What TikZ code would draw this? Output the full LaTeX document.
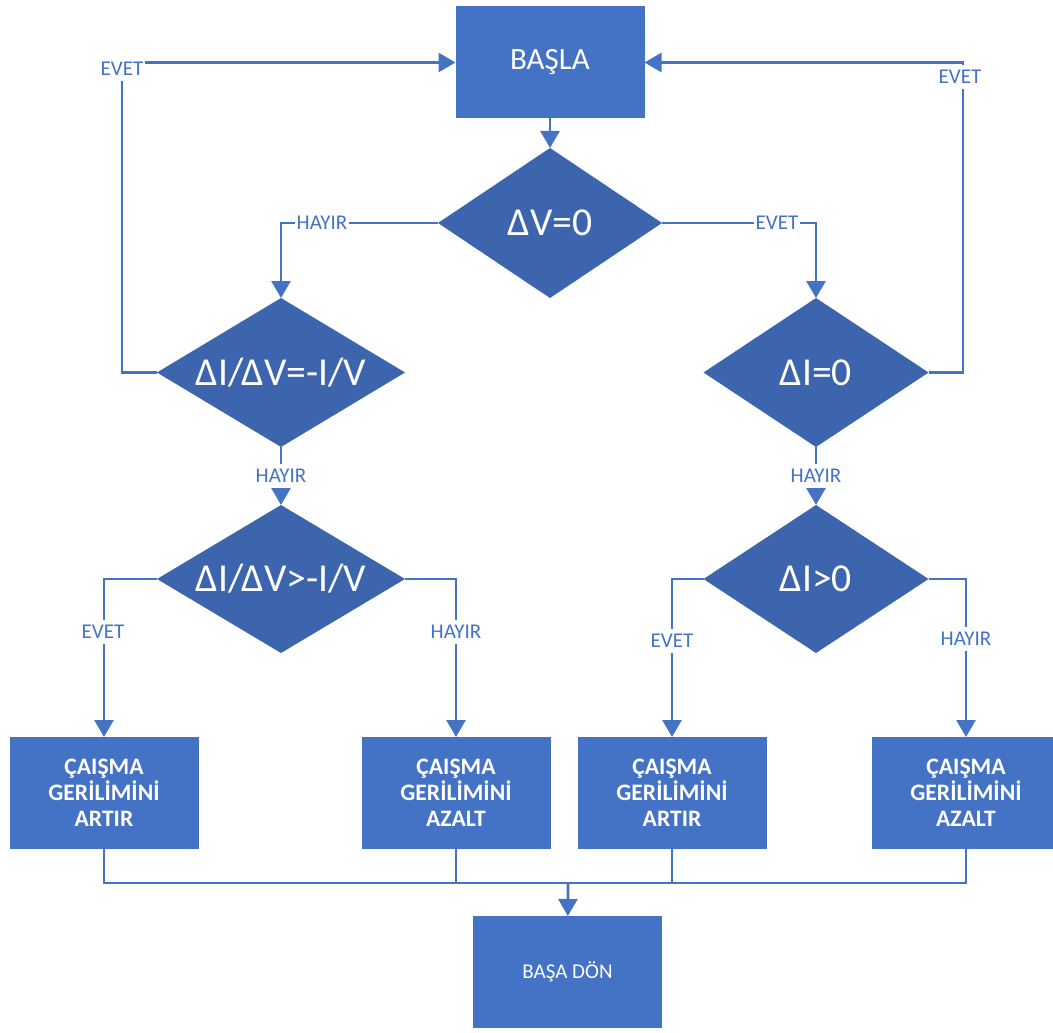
\documentclass[tikz,border=0pt]{standalone}
\usepackage{fontspec}
\setmainfont{Carlito}
\usetikzlibrary{shapes.geometric,arrows.meta,positioning}
\definecolor{ofblue}{HTML}{4472C4}
\definecolor{ofdark}{HTML}{3C65AD}

\begin{document}
\begin{tikzpicture}[x=0.5pt, y=-0.5pt, line width=1.4pt,
        conn/.style={draw=ofblue, -{Triangle[length=8.5pt,width=9.5pt]}},
        plain/.style={draw=ofblue},
        lbl/.style={fill=white, text=ofblue, inner xsep=1pt, inner ysep=2.5pt, font=\fontsize{10.5pt}{12pt}\selectfont}]
            \useasboundingbox (0,0) rectangle (1053,1032);
            \begin{scope}[box/.style={rectangle, fill=ofblue, text=white, align=center, inner sep=0pt, outer sep=0pt, minimum width=94.5pt, minimum height=56pt},
                          act/.style={box, font=\bfseries\fontsize{11.8pt}{13pt}\selectfont},
                          dec/.style={diamond, fill=ofdark, text=white, inner sep=0pt, outer sep=0pt, font=\fontsize{19.8pt}{23pt}\selectfont}]
                \node(basla) at (550,62.5) [box, font=\fontsize{15.5pt}{18pt}\selectfont]{BAŞLA};
                \node(dv) at (550,223) [dec, aspect=1.49, minimum width=112pt, minimum height=75pt]{ΔV=0};
                %%%
                \node(esit) at (281,372.5) [dec, aspect=1.66, minimum width=124pt, minimum height=74.5pt]{ΔI/ΔV=-I/V};
                \node(di) at (816,372.5) [dec, aspect=1.5, minimum width=112.5pt, minimum height=74.5pt]{ΔI=0};
                \node(buyuk) at (281,579) [dec, aspect=1.66, minimum width=124pt, minimum height=74pt]{ΔI/ΔV>-I/V};
                \node(dipoz) at (816,579) [dec, aspect=1.5, minimum width=112.5pt, minimum height=74pt]{ΔI>0};
                %%%
                \node(art1) at (104,793) [act]{ÇAIŞMA\\GERİLİMİNİ\\ARTIR};
                \node(az1) at (456,793) [act]{ÇAIŞMA\\GERİLİMİNİ\\AZALT};
                \node(art2) at (672,793) [act]{ÇAIŞMA\\GERİLİMİNİ\\ARTIR};
                \node(az2) at (966,793) [act]{ÇAIŞMA\\GERİLİMİNİ\\AZALT};
                \node(donus) at (567.5,972) [box, font=\fontsize{10.5pt}{13pt}\selectfont]{BAŞA DÖN};
            \end{scope}
            \coordinate(ltop) at (122,62.5);
            \coordinate(rtop) at (963,62.5);
            \coordinate(join) at (568,883);
            %
            \draw[conn] (basla) -- (dv);
            \draw[conn] (dv.west) -| (esit.north);
            \draw[conn] (dv.east) -| (di.north);
            \draw[conn] (esit.west) -| (ltop) -- (basla.west);
            \draw[conn] (di.east) -| (rtop) -- (basla.east);
            \draw[conn] (esit) -- (buyuk);
            \draw[conn] (di) -- (dipoz);
            %
            \draw[conn] (buyuk.west) -| (art1.north);
            \draw[conn] (buyuk.east) -| (az1.north);
            \draw[conn] (dipoz.west) -| (art2.north);
            \draw[conn] (dipoz.east) -| (az2.north);
            %
            \draw[plain] (art1.south) |- (az2.south |- join) -- (az2.south);
            \draw[plain] (az1.south) -- (az1.south |- join);
            \draw[plain] (art2.south) -- (art2.south |- join);
            \draw[conn] (join) -- (donus);
            %
            \node(h1) at (322,223) [lbl]{HAYIR};
            \node(e1) at (777,223) [lbl]{EVET};
            \node(e2) at (122,69) [lbl]{EVET};
            \node(e3) at (960,77) [lbl]{EVET};
            \node(h2) at (281,476) [lbl]{HAYIR};
            \node(h3) at (816,476) [lbl]{HAYIR};
            \node(e4) at (103,632) [lbl]{EVET};
            \node(h4) at (456,632) [lbl]{HAYIR};
            \node(e5) at (672,641) [lbl]{EVET};
            \node(h5) at (966,639) [lbl]{HAYIR};
        \end{tikzpicture}
\end{document}
